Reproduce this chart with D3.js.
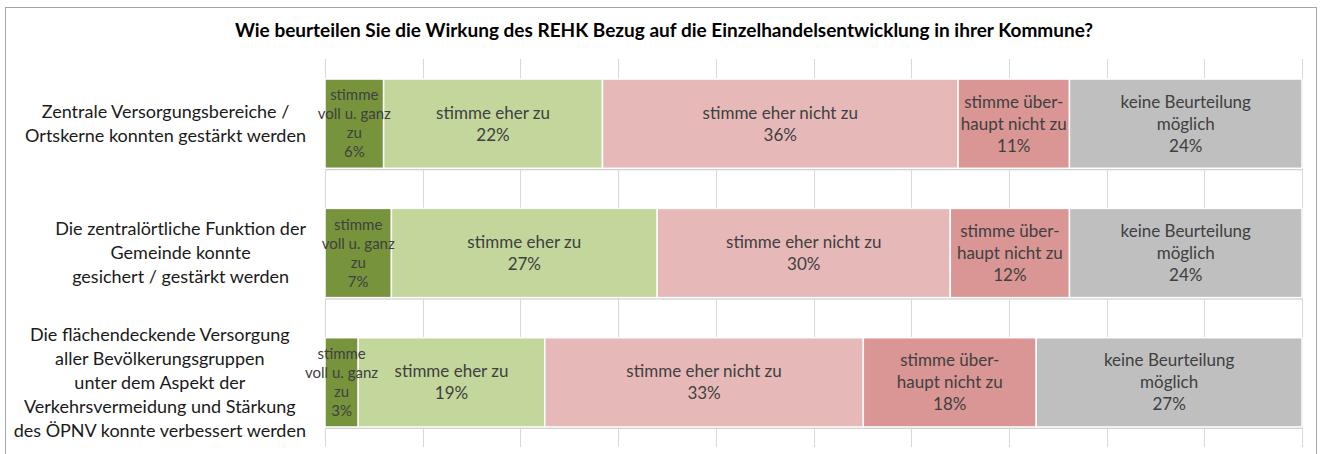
<!DOCTYPE html>
<html lang="de">
<head>
<meta charset="UTF-8">
<title>REHK Bewertung</title>
<script src="https://d3js.org/d3.v7.min.js"></script>
<style>
  body { margin: 0; background: #fff; }
  svg text { font-family: Lato, "Liberation Sans", sans-serif; }
</style>
</head>
<body>
<script>
    // Daten
    const title = "Wie beurteilen Sie die Wirkung des REHK Bezug auf die Einzelhandelsentwicklung in ihrer Kommune?";
    const categories = [
        ["Zentrale Versorgungsbereiche /", "Ortskerne konnten gestärkt werden"],
        ["Die zentralörtliche Funktion der", "Gemeinde  konnte", "gesichert / gestärkt werden"],
        ["Die flächendeckende Versorgung", "aller Bevölkerungsgruppen", "unter dem Aspekt der", "Verkehrsvermeidung und Stärkung", "des ÖPNV konnte verbessert werden"]
    ];
    const seriesKeys = ["vollGanz", "eherZu", "eherNicht", "ueberhauptNicht", "keine"];
    const seriesLabels = [
        ["stimme", "voll u. ganz", "zu"],
        ["stimme eher zu"],
        ["stimme eher nicht zu"],
        ["stimme über-", "haupt nicht zu"],
        ["keine Beurteilung", "möglich"]
    ];
    const vollGanz        = [6.0, 6.8, 3.4];
    const eherZu          = [22.4, 27.2, 19.1];
    const eherNicht       = [36.4, 30.0, 32.6];
    const ueberhauptNicht = [11.4, 12.2, 17.7];
    const keine           = [23.8, 23.8, 27.2];
    const xTicks = [0, 10, 20, 30, 40, 50, 60, 70, 80, 90, 100];

    const colors = ["#77933c", "#c3d69b", "#e6b9b8", "#d99694", "#bfbfbf"];

    const width = 1322, height = 454;
    const svg = d3.select("body").append("svg")
        .attr("width", width)
        .attr("height", height);

    // Rahmen
    svg.append("rect")
        .attr("x", 5.5).attr("y", 7.5)
        .attr("width", 1311).attr("height", 460)
        .attr("fill", "#fff")
        .attr("stroke", "#a6a6a6");

    svg.append("text")
        .attr("x", 664).attr("y", 30)
        .attr("dy", "0.35em")
        .attr("text-anchor", "middle")
        .attr("font-weight", "bold")
        .attr("font-size", 19)
        .attr("fill", "#000")
        .text(title);

    const rows = categories.map((c, i) => ({
        idx: i,
        vollGanz: vollGanz[i],
        eherZu: eherZu[i],
        eherNicht: eherNicht[i],
        ueberhauptNicht: ueberhauptNicht[i],
        keine: keine[i]
    }));

    const x = d3.scaleLinear().domain([0, 100]).range([325, 1302]);
    const y = d3.scaleBand().domain(rows.map(d => d.idx)).range([59, 447])
        .paddingInner(0.31).paddingOuter(0.155);

    // Gitterlinien
    svg.append("g")
        .selectAll("line")
        .data(xTicks)
        .join("line")
        .attr("x1", d => Math.round(x(d)) + 0.5)
        .attr("x2", d => Math.round(x(d)) + 0.5)
        .attr("y1", 59).attr("y2", 447)
        .attr("stroke", "#d9d9d9");

    const stacked = d3.stack().keys(seriesKeys)(rows);

    // Schatten
    svg.append("g")
        .selectAll("rect")
        .data(rows)
        .join("rect")
        .attr("x", x(0) + 1)
        .attr("y", d => y(d.idx) + 2)
        .attr("width", x(100) - x(0))
        .attr("height", y.bandwidth())
        .attr("fill", "#d0d0d0");

    const layers = svg.append("g")
        .selectAll("g")
        .data(stacked)
        .join("g")
        .attr("fill", (d, i) => colors[i]);

    layers.selectAll("rect")
        .data(d => d)
        .join("rect")
        .attr("x", d => x(d[0]))
        .attr("y", d => y(d.data.idx))
        .attr("width", d => x(d[1]) - x(d[0]))
        .attr("height", y.bandwidth())
        .attr("stroke", "#fff")
        .attr("stroke-width", 1.5);

    // Datenbeschriftungen
    stacked.forEach((layer, si) => {
        const small = si === 0;
        const lh = small ? 19 : 22;
        layer.forEach(d => {
            const lines = seriesLabels[si].concat([Math.round(d[1] - d[0]) + "%"]);
            const cx = (x(d[0]) + x(d[1])) / 2;
            const cy = y(d.data.idx) + y.bandwidth() / 2;
            const t = svg.append("text")
                .attr("text-anchor", "middle")
                .attr("font-size", small ? 15 : 17)
                .attr("fill", "#404040");
            lines.forEach((l, li) => {
                t.append("tspan")
                    .attr("x", cx)
                    .attr("y", cy + (li - (lines.length - 1) / 2) * lh)
                    .attr("dy", "0.35em")
                    .text(l);
            });
        });
    });

    // Kategorienbeschriftungen: Block rechtsbündig, Zeilen zentriert
    const labelRight = 306;
    categories.forEach((lines, i) => {
        const cy = y(i) + y.bandwidth() / 2;
        const t = svg.append("text")
            .attr("text-anchor", "middle")
            .attr("font-size", 18)
            .attr("fill", "#1a1a1a");
        const spans = lines.map((l, li) => t.append("tspan")
            .attr("y", cy + (li - (lines.length - 1) / 2) * 24)
            .attr("dy", "0.35em")
            .text(l));
        const maxW = d3.max(spans, s => s.node().getComputedTextLength());
        spans.forEach(s => s.attr("x", labelRight - maxW / 2));
    });
</script>
</body>
</html>
